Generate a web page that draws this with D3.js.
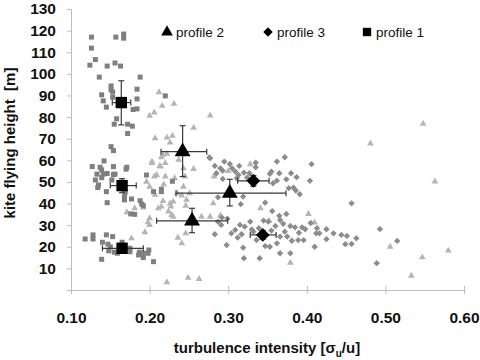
<!DOCTYPE html>
<html>
<head>
<meta charset="utf-8">
<script src="https://cdn.jsdelivr.net/npm/d3@7"></script>
<style>
  body { margin: 0; background: #fff; }
  text { font-family: Arial, "Liberation Sans", sans-serif; }
</style>
</head>
<body>
<div id="chart"></div>
<script>
// scatter data, [turbulence intensity, height m]
const profile1 = [
  [0.126,117.0],[0.157,117.0],[0.167,118.4],[0.167,116.5],[0.126,111.9],[0.131,106.6],[0.124,104.0],[0.146,103.6],
  [0.156,105.0],[0.163,103.6],[0.136,98.5],[0.188,98.5],[0.151,94.4],[0.151,92.6],[0.153,91.6],[0.184,92.9],
  [0.139,90.3],[0.153,89.2],[0.184,88.4],[0.141,87.5],[0.145,84.6],[0.179,83.5],[0.184,83.8],[0.158,79.2],
  [0.155,76.7],[0.172,76.7],[0.178,75.8],[0.172,72.4],[0.220,89.8],[0.151,66.3],[0.154,64.5],[0.142,59.7],
  [0.127,57.1],[0.137,56.8],[0.139,55.6],[0.154,57.1],[0.171,56.8],[0.170,55.9],[0.133,53.6],[0.141,53.6],
  [0.146,53.9],[0.154,53.4],[0.156,53.6],[0.131,50.9],[0.139,52.0],[0.152,50.9],[0.135,48.6],[0.134,47.4],
  [0.145,45.5],[0.169,45.2],[0.168,43.2],[0.177,42.1],[0.168,41.7],[0.188,41.3],[0.190,39.7],[0.192,39.0],
  [0.146,40.4],[0.181,35.0],[0.176,35.2],[0.196,53.2],[0.205,45.5],[0.215,45.5],[0.215,46.6],[0.229,50.3],
  [0.128,25.5],[0.128,23.6],[0.118,23.6],[0.145,25.5],[0.153,24.7],[0.140,22.1],[0.147,21.2],[0.150,20.0],
  [0.165,22.1],[0.148,18.1],[0.155,17.5],[0.175,17.7],[0.175,19.3],[0.187,17.5],[0.186,16.2],[0.192,17.0],
  [0.192,15.0],[0.199,18.5],[0.198,17.0],[0.139,14.2],[0.205,13.1],[0.159,17.0]
];
const profile2 = [
  [0.212,91.5],[0.216,85.2],[0.231,86.1],[0.206,82.1],[0.200,80.6],[0.277,80.7],[0.256,75.0],[0.207,70.2],
  [0.222,70.5],[0.229,71.3],[0.226,68.2],[0.217,62.5],[0.215,61.4],[0.222,63.0],[0.237,60.2],[0.213,57.4],
  [0.220,58.7],[0.243,56.3],[0.256,56.0],[0.203,59.4],[0.220,52.5],[0.232,51.7],[0.206,52.5],[0.245,52.5],
  [0.282,52.5],[0.243,47.8],[0.251,44.8],[0.235,44.8],[0.241,43.7],[0.217,41.2],[0.247,41.7],[0.215,38.6],
  [0.211,37.8],[0.230,40.9],[0.227,38.6],[0.246,39.0],[0.281,40.1],[0.224,36.3],[0.228,34.7],[0.230,33.9],
  [0.266,33.9],[0.277,33.9],[0.200,30.1],[0.246,26.2],[0.236,24.2],[0.241,21.6],[0.249,5.7],[0.263,5.1],
  [0.222,3.6],[0.177,23.9],[0.194,26.7],[0.198,31.3],[0.171,36.0],[0.181,37.8],[0.192,38.2],[0.200,33.2],
  [0.203,58.7],[0.214,57.1],[0.209,53.2],[0.196,50.1],[0.200,47.8],[0.218,48.8],[0.207,44.0],[0.226,40.0],
  [0.341,37.8],[0.402,35.2],[0.410,31.2],[0.352,32.0],[0.379,12.6],[0.481,67.8],[0.506,20.0],[0.547,15.1],
  [0.580,18.2],[0.533,6.6],[0.563,50.2],[0.548,76.9],[0.330,51.4],[0.328,58.2],[0.300,55.0],[0.290,34.5]
];
const profile3 = [
  [0.276,61.3],[0.295,59.4],[0.302,58.3],[0.283,57.4],[0.290,56.3],[0.305,56.3],[0.314,57.4],[0.309,54.8],
  [0.320,54.3],[0.285,54.0],[0.293,55.2],[0.313,53.2],[0.327,54.0],[0.335,58.9],[0.335,56.8],[0.372,61.4],
  [0.362,59.4],[0.406,58.2],[0.355,54.8],[0.353,53.7],[0.365,54.0],[0.380,54.0],[0.387,52.2],[0.374,51.2],
  [0.362,50.6],[0.357,49.4],[0.404,50.5],[0.377,47.1],[0.383,47.4],[0.386,46.0],[0.391,44.3],[0.347,40.4],
  [0.457,40.1],[0.293,51.4],[0.311,51.7],[0.324,52.0],[0.277,61.0],[0.287,42.9],[0.316,39.7],[0.319,43.2],
  [0.365,34.3],[0.374,35.2],[0.345,32.1],[0.351,31.6],[0.366,32.4],[0.360,29.6],[0.370,30.6],[0.379,29.6],
  [0.385,29.0],[0.394,29.0],[0.398,28.1],[0.413,28.6],[0.416,26.2],[0.425,28.1],[0.434,26.2],[0.444,25.5],
  [0.451,25.0],[0.463,23.9],[0.449,21.2],[0.457,21.3],[0.425,23.5],[0.412,26.2],[0.410,20.0],[0.396,23.1],
  [0.389,23.1],[0.381,22.8],[0.375,24.7],[0.366,24.7],[0.362,21.6],[0.353,20.0],[0.347,20.3],[0.336,23.1],
  [0.332,27.0],[0.339,28.6],[0.330,28.0],[0.379,17.0],[0.366,17.0],[0.340,14.7],[0.292,33.5],[0.287,31.6],
  [0.291,30.1],[0.299,33.0],[0.283,25.8],[0.298,20.8],[0.304,26.2],[0.309,27.8],[0.312,24.2],[0.315,30.1],
  [0.321,29.3],[0.317,25.8],[0.319,19.6],[0.320,14.7],[0.328,31.6],[0.493,28.2],[0.515,22.7],[0.489,12.4],
  [0.355,27.5],[0.372,27.0],[0.390,26.5],[0.405,31.0],[0.356,36.5]
];

// profile means with error ranges: x, y, xLow, xHigh, yLow, yHigh
const means1 = [
  [0.164,86.7,0.1525,0.176,76.4,96.8],
  [0.165,48.3,0.150,0.183,45.0,51.5],
  [0.165,19.3,0.140,0.192,17.0,21.5]
];
const means2 = [
  [0.242,64.0,0.2145,0.2727,52.5,76.0],
  [0.302,44.8,0.2336,0.3735,38.9,51.2],
  [0.254,32.0,0.209,0.2994,26.5,37.8]
];
const means3 = [
  [0.332,50.5,0.312,0.352,48.0,53.0],
  [0.344,25.5,0.328,0.361,23.5,27.5]
];

const xTicks = [0.1, 0.2, 0.3, 0.4, 0.5, 0.6];
const yTicks = [0, 10, 20, 30, 40, 50, 60, 70, 80, 90, 100, 110, 120, 130];
const legendNames = ["profile 2", "profile 3", "profile 1"];

const width = 480;
const height = 360;

const svg = d3.select("#chart")
  .append("svg")
  .attr("width", width)
  .attr("height", height);

const x = d3.scaleLinear().domain([0.1, 0.6]).range([71, 464]);
const y = d3.scaleLinear().domain([0, 130]).range([290, 9]);

const axisColor = "#bdbdbd";

// y axis
const yAxis = svg.append("g")
  .attr("transform", "translate(71,0)")
  .call(d3.axisLeft(y).tickValues(yTicks).tickSize(4).tickPadding(11)
    .tickFormat(d => d === 0 ? "" : d));
// x axis
const xAxis = svg.append("g")
  .attr("transform", "translate(0,290)")
  .call(d3.axisBottom(x).tickValues(xTicks).tickSize(4).tickPadding(18)
    .tickFormat(d3.format(".2f")));

[yAxis, xAxis].forEach(g => {
  g.select(".domain").attr("stroke", axisColor);
  g.selectAll(".tick line").attr("stroke", axisColor);
  g.selectAll(".tick text")
    .attr("fill", "#111")
    .style("font-size", "15.5px")
    .style("font-weight", "bold")
    .style("font-family", "Arial, 'Liberation Sans', sans-serif");
});
xAxis.selectAll(".tick line").attr("y1", -4);

// scatter points; diamonds are squares turned 45 degrees
const sq = d3.symbol().type(d3.symbolSquare);
const tri = d3.symbol().type(d3.symbolTriangle);

svg.append("g").selectAll("path")
  .data(profile2).join("path")
  .attr("transform", d => `translate(${x(d[0])},${y(d[1])})`)
  .attr("d", tri.size(20)())
  .attr("fill", "#b5b5b5");

svg.append("g").selectAll("path")
  .data(profile1).join("path")
  .attr("transform", d => `translate(${x(d[0])},${y(d[1])})`)
  .attr("d", sq.size(25)())
  .attr("fill", "#7f7f7f");

svg.append("g").selectAll("path")
  .data(profile3).join("path")
  .attr("transform", d => `translate(${x(d[0])},${y(d[1])}) rotate(45)`)
  .attr("d", sq.size(20)())
  .attr("fill", "#8c8c8c");

// error bars + mean markers
function drawMeans(data, symbol, size, turn) {
  const g = svg.append("g");
  const cap = 3;
  data.forEach(d => {
    const cx = x(d[0]), cy = y(d[1]);
    const bars = g.append("g").attr("stroke", "#3a3a3a").attr("stroke-width", 1.2);
    bars.append("line").attr("x1", x(d[2])).attr("x2", x(d[3])).attr("y1", cy).attr("y2", cy);
    bars.append("line").attr("x1", x(d[2])).attr("x2", x(d[2])).attr("y1", cy - cap).attr("y2", cy + cap);
    bars.append("line").attr("x1", x(d[3])).attr("x2", x(d[3])).attr("y1", cy - cap).attr("y2", cy + cap);
    bars.append("line").attr("x1", cx).attr("x2", cx).attr("y1", y(d[4])).attr("y2", y(d[5]));
    bars.append("line").attr("x1", cx - cap).attr("x2", cx + cap).attr("y1", y(d[4])).attr("y2", y(d[4]));
    bars.append("line").attr("x1", cx - cap).attr("x2", cx + cap).attr("y1", y(d[5])).attr("y2", y(d[5]));
    g.append("path")
      .attr("transform", `translate(${cx},${cy}) rotate(${turn})`)
      .attr("d", d3.symbol().type(symbol).size(size)())
      .attr("fill", "#000");
  });
}
drawMeans(means1, d3.symbolSquare, 130, 0);
drawMeans(means2, d3.symbolTriangle, 110, 0);
drawMeans(means3, d3.symbolSquare, 95, 45);

// legend
const legendX = [167, 268, 367];
const legendSym = [d3.symbolTriangle, d3.symbolSquare, d3.symbolSquare];
const legendSize = [60, 45, 70];
const legendTurn = [0, 45, 0];
legendNames.forEach((name, i) => {
  svg.append("path")
    .attr("transform", `translate(${legendX[i]},${32}) rotate(${legendTurn[i]})`)
    .attr("d", d3.symbol().type(legendSym[i]).size(legendSize[i])())
    .attr("fill", "#000");
  svg.append("text")
    .attr("x", legendX[i] + 9)
    .attr("y", 37)
    .style("font-size", "13.5px")
    .attr("fill", "#111")
    .text(name);
});

// axis titles
const xTitle = svg.append("text")
  .attr("x", 267)
  .attr("y", 353)
  .attr("text-anchor", "middle")
  .style("font-size", "15px")
  .style("font-weight", "bold")
  .attr("fill", "#111");
xTitle.append("tspan").text("turbulence intensity [σ");
xTitle.append("tspan").attr("dy", 4).style("font-size", "10px").text("u");
xTitle.append("tspan").attr("dy", -4).text("/u]");

svg.append("text")
  .attr("transform", "translate(15,143) rotate(-90)")
  .attr("text-anchor", "middle")
  .style("font-size", "15px")
  .style("font-weight", "bold")
  .attr("fill", "#111")
  .style("white-space", "pre")
  .text("kite flying height  [m]");
</script>
</body>
</html>
